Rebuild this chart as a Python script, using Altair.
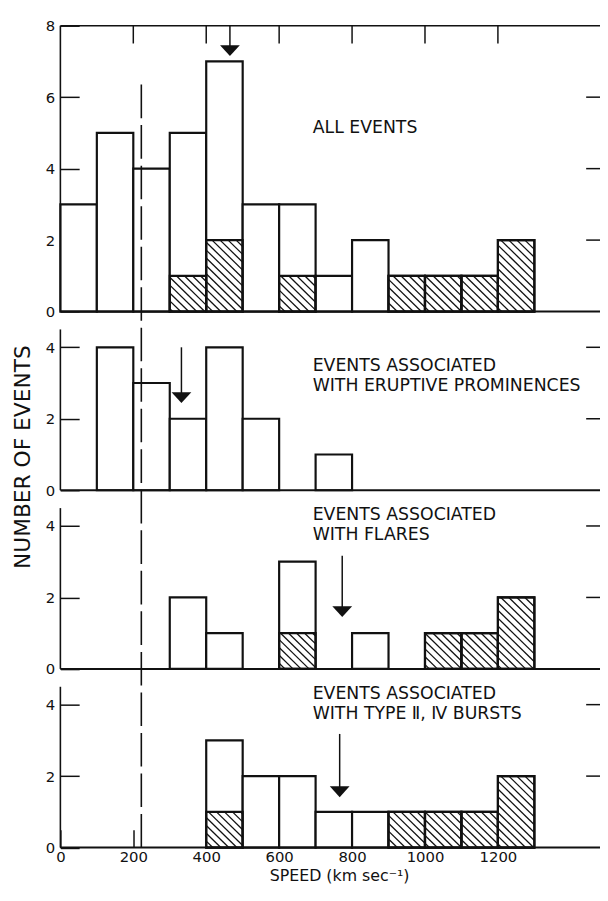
import math
import altair as alt
import pandas as pd

# ---------------- data ----------------
SPEED_BINS = [0, 100, 200, 300, 400, 500, 600, 700, 800, 900, 1000, 1100, 1200]
BIN_WIDTH = 100

ALL_TOTAL   = [3, 5, 4, 5, 7, 3, 3, 1, 2, 1, 1, 1, 2]
ALL_HATCHED = [0, 0, 0, 1, 2, 0, 1, 0, 0, 1, 1, 1, 2]
EP_TOTAL    = [0, 4, 3, 2, 4, 2, 0, 1, 0, 0, 0, 0, 0]
EP_HATCHED  = [0, 0, 0, 0, 0, 0, 0, 0, 0, 0, 0, 0, 0]
FL_TOTAL    = [0, 0, 0, 2, 1, 0, 3, 0, 1, 0, 1, 1, 2]
FL_HATCHED  = [0, 0, 0, 0, 0, 0, 1, 0, 0, 0, 1, 1, 2]
TB_TOTAL    = [0, 0, 0, 0, 3, 2, 2, 1, 1, 1, 1, 1, 2]
TB_HATCHED  = [0, 0, 0, 0, 1, 0, 0, 0, 0, 1, 1, 1, 2]

PANEL_TOTALS = [ALL_TOTAL, EP_TOTAL, FL_TOTAL, TB_TOTAL]
PANEL_HATCHED = [ALL_HATCHED, EP_HATCHED, FL_HATCHED, TB_HATCHED]
PANEL_BASE = [15, 10, 5, 0]          # stacking offset of each panel
PANEL_TOP = [8, 4.5, 4.5, 4.5]       # extent of each panel's own axis
PANEL_TICKS = [[0, 2, 4, 6, 8], [0, 2, 4], [0, 2, 4], [0, 2, 4]]
PANEL_RIGHT_TICKS = [[2, 4, 6], [2, 4], [2, 4], [2, 4]]

X_TICKS = [0, 200, 400, 600, 800, 1000, 1200]
X_INNER_TICKS = [200, 400, 600, 800, 1000, 1200]
X_MAX = 1480
Y_MAX = 23

ARROW_SPEED = [465, 332, 773, 766]
ARROW_FROM = [8.0, 4.0, 3.17, 3.18]
ARROW_TO = [7.15, 2.44, 1.45, 1.41]

DASHED_SPEED = 222
DASHED_TOP = 6.45   # in panel 1 units

LABEL_TEXT = [["ALL EVENTS"],
              ["EVENTS ASSOCIATED", "WITH ERUPTIVE PROMINENCES"],
              ["EVENTS ASSOCIATED", "WITH FLARES"],
              ["EVENTS ASSOCIATED", "WITH TYPE Ⅱ, Ⅳ BURSTS"]]
LABEL_Y = [[5.0], [3.35, 2.79], [4.18, 3.61], [4.16, 3.60]]
LABEL_SPEED = 692

HATCH_STEP = 0.22
INK = "#111111"
FONT = "DejaVu Sans"

# ---------------- tables ----------------
bar_rows, hatch_rect_rows, hatch_rows = [], [], []
for p in range(4):
    base = PANEL_BASE[p]
    for i, s in enumerate(SPEED_BINS):
        tot = PANEL_TOTALS[p][i]
        h = PANEL_HATCHED[p][i]
        if tot > 0:
            bar_rows.append(dict(x=s, x2=s + BIN_WIDTH, y=base, y2=base + tot))
        if h > 0:
            hatch_rect_rows.append(dict(x=s, x2=s + BIN_WIDTH, y=base, y2=base + h))
            u0 = s / BIN_WIDTH
            kmin = math.ceil(u0 / HATCH_STEP)
            kmax = math.floor((u0 + 1 + h) / HATCH_STEP)
            for k in range(kmin, kmax + 1):
                c = k * HATCH_STEP
                lo = max(u0, c - h)
                hi = min(u0 + 1, c)
                if hi - lo < 0.03:
                    continue
                hatch_rows.append(dict(x=lo * BIN_WIDTH, x2=hi * BIN_WIDTH,
                                       y=base + c - lo, y2=base + c - hi))

bars_df = pd.DataFrame(bar_rows)
hrect_df = pd.DataFrame(hatch_rect_rows)
hatch_df = pd.DataFrame(hatch_rows)

frame_rows = []
for p in range(4):
    base = PANEL_BASE[p]
    frame_rows.append(dict(x=0, x2=X_MAX, y=base, y2=base, w=2.0))
    frame_rows.append(dict(x=0, x2=0, y=base, y2=base + PANEL_TOP[p], w=1.6))
frame_rows.append(dict(x=0, x2=X_MAX, y=PANEL_BASE[0] + PANEL_TOP[0],
                       y2=PANEL_BASE[0] + PANEL_TOP[0], w=1.6))
frame_df = pd.DataFrame(frame_rows)

y_ticks = [PANEL_BASE[p] + t for p in range(4) for t in PANEL_TICKS[p]]
right_ticks_df = pd.DataFrame(dict(
    y=[PANEL_BASE[p] + t for p in range(4) for t in PANEL_RIGHT_TICKS[p]]))
top_ticks_df = pd.DataFrame(dict(x=X_INNER_TICKS))

arrow_df = pd.DataFrame(dict(
    x=ARROW_SPEED,
    y=[PANEL_BASE[p] + ARROW_FROM[p] for p in range(4)],
    y2=[PANEL_BASE[p] + ARROW_TO[p] + 0.1 for p in range(4)],
    tip=[PANEL_BASE[p] + ARROW_TO[p] for p in range(4)],
))

dash_df = pd.DataFrame(dict(x=[DASHED_SPEED], y=[0], y2=[PANEL_BASE[0] + DASHED_TOP]))

label_rows = []
for p in range(4):
    for t, yy in zip(LABEL_TEXT[p], LABEL_Y[p]):
        label_rows.append(dict(x=LABEL_SPEED, y=PANEL_BASE[p] + yy, t=t))
label_df = pd.DataFrame(label_rows)

# ---------------- scales / axes ----------------
xs = alt.Scale(domain=[0, X_MAX], nice=False, zero=False)
ys = alt.Scale(domain=[0, Y_MAX], nice=False, zero=False)

x_bottom = alt.Axis(orient="bottom", values=X_TICKS, offset=-18, tickSize=18,
                    labelPadding=2, labelFontSize=15, domain=False, grid=False,
                    format="d",
                    title="SPEED (km sec⁻¹)", titleFontSize=16, titlePadding=3,
                    titleX=282, labelFlush=False)
y_left = alt.Axis(orient="left", values=y_ticks, offset=-19, tickSize=19,
                  labelPadding=5.7, labelFontSize=15, domain=False, grid=False,
                  labelExpr="datum.value >= 15 ? datum.value - 15 : datum.value % 5",
                  title="NUMBER OF EVENTS", titleFontSize=22, titlePadding=11,
                  titleY=436, labelFlush=False)

bars = alt.Chart(bars_df).mark_rect(fill="white", stroke=INK, strokeWidth=2.2).encode(
    x=alt.X("x:Q", scale=xs, axis=x_bottom), x2="x2:Q",
    y=alt.Y("y:Q", scale=ys, axis=y_left), y2="y2:Q",
)

frame = alt.Chart(frame_df).mark_rule(color=INK).encode(
    x=alt.X("x:Q", scale=xs, axis=None), x2="x2:Q",
    y=alt.Y("y:Q", scale=ys, axis=None), y2="y2:Q",
    strokeWidth=alt.StrokeWidth("w:Q", scale=None),
)

# inward ticks on the right edge and along the top edge
right_ticks = alt.Chart(right_ticks_df).mark_rule(
    color=INK, strokeWidth=1.5, x2Offset=-14).encode(
    x=alt.XDatum(X_MAX, scale=xs, axis=None), x2=alt.X2Datum(X_MAX),
    y=alt.Y("y:Q", scale=ys, axis=None),
)
top_ticks = alt.Chart(top_ticks_df).mark_rule(
    color=INK, strokeWidth=1.5, y2Offset=18).encode(
    x=alt.X("x:Q", scale=xs, axis=None),
    y=alt.YDatum(Y_MAX, scale=ys, axis=None), y2=alt.Y2Datum(Y_MAX),
)

hrect = alt.Chart(hrect_df).mark_rect(fill="white", fillOpacity=0, stroke=INK,
                                      strokeWidth=2.2).encode(
    x=alt.X("x:Q", scale=xs, axis=None), x2="x2:Q",
    y=alt.Y("y:Q", scale=ys, axis=None), y2="y2:Q",
)

hatch = alt.Chart(hatch_df).mark_rule(color=INK, strokeWidth=1.3).encode(
    x=alt.X("x:Q", scale=xs, axis=None), x2="x2:Q",
    y=alt.Y("y:Q", scale=ys, axis=None), y2="y2:Q",
)

dashed = alt.Chart(dash_df).mark_rule(color=INK, strokeWidth=1.6,
                                      strokeDash=[34, 7]).encode(
    x=alt.X("x:Q", scale=xs, axis=None),
    y=alt.Y("y:Q", scale=ys, axis=None), y2="y2:Q",
)

shafts = alt.Chart(arrow_df).mark_rule(color=INK, strokeWidth=1.5).encode(
    x=alt.X("x:Q", scale=xs, axis=None),
    y=alt.Y("y:Q", scale=ys, axis=None), y2="y2:Q",
)

heads = alt.Chart(arrow_df).mark_point(
    shape="M-1,-1.1L1,-1.1L0,0Z", filled=True, size=400, color=INK, opacity=1,
    strokeWidth=0,
).encode(
    x=alt.X("x:Q", scale=xs, axis=None),
    y=alt.Y("tip:Q", scale=ys, axis=None),
)

labels = alt.Chart(label_df).mark_text(
    align="left", baseline="alphabetic", font=FONT, fontSize=17.5, color=INK,
).encode(
    x=alt.X("x:Q", scale=xs, axis=None),
    y=alt.Y("y:Q", scale=ys, axis=None),
    text="t:N",
)

chart = alt.layer(bars, frame, right_ticks, top_ticks, hrect, hatch, dashed,
                  shafts, heads, labels).resolve_axis(
    x="independent", y="independent"
).properties(
    width=546, height=831.6,
    autosize=alt.AutoSizeParams(type="none"),
    padding={"left": 53, "top": 12.7, "right": 0, "bottom": 35.7},
).configure_view(stroke=None).configure_axis(
    labelFont=FONT, titleFont=FONT, labelColor=INK, titleColor=INK,
    tickColor=INK, tickWidth=1.5, titleFontWeight="normal",
)

chart.save("out.html", embed_options={"renderer": "svg", "actions": False})
